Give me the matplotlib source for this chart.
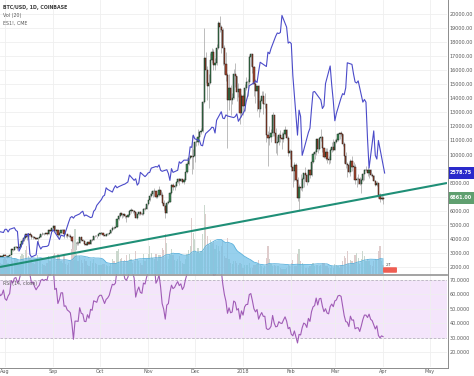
import numpy as np
import pandas as pd
import matplotlib
matplotlib.use("Agg")
import matplotlib.pyplot as plt
import matplotlib.dates as mdates
from matplotlib.patches import Rectangle, FancyBboxPatch
from matplotlib.lines import Line2D

# ---------------- data ----------------
START = "2017-07-01"
FIRST_OPEN = 2480

CLOSE = [
    2500, 2560, 2600, 2610, 2620, 2610, 2510, 2560, 2510, 2330, 2310, 2380, 2360, 2230, 1960, 1930, 2230, 2320, 2270, 2870, 2670, 2830, 2760, 2760, 2580, 2540, 2680, 2810, 2730, 2760, 2880,
    2730, 2700, 2800, 2860, 3260, 3220, 3390, 3420, 3340, 3420, 3650, 3870, 4060, 4330, 4160, 4380, 4280, 4110, 4150, 4060, 4000, 4090, 4150, 4330, 4370, 4350, 4390, 4380, 4600, 4580, 4740,
    4950, 4580, 4620, 4300, 4420, 4630, 4630, 4320, 4330, 4230, 4200, 4160, 3870, 3230, 3700, 3700, 3690, 4100, 3910, 3880, 3610, 3600, 3790, 3670, 3930, 3900, 4210, 4190, 4170, 4340,
    4400, 4400, 4310, 4220, 4330, 4370, 4440, 4610, 4780, 4770, 4830, 5440, 5640, 5830, 5690, 5760, 5600, 5570, 5710, 6010, 6010, 5990, 5900, 5520, 5740, 5890, 5770, 5750, 6150, 6130, 6450,
    6740, 7030, 7160, 7380, 7390, 6960, 7120, 7460, 7140, 6570, 6340, 5860, 6520, 6600, 7280, 7850, 7700, 7790, 8040, 8250, 8100, 8230, 8020, 8200, 8750, 9300, 9720, 9910, 9860, 9920,
    10860, 10910, 11250, 11620, 11670, 13750, 16850, 16050, 14850, 15060, 16730, 17280, 16400, 16480, 17600, 19340, 19050, 18880, 17570, 16460, 15630, 13860, 14700, 13910, 14020, 15760, 15580, 14440, 14660, 12950, 14160,
    13440, 14750, 15160, 15180, 16940, 17140, 16200, 15000, 14500, 14860, 13240, 13780, 14180, 13570, 13580, 11370, 11160, 11250, 11520, 12780, 11520, 10800, 10860, 11380, 11150, 11090, 11440, 11750, 11210, 10100, 10220,
    9110, 8830, 9230, 8190, 6940, 7700, 7590, 8240, 8680, 8540, 8070, 8900, 8510, 9480, 10030, 10170, 11080, 10380, 11150, 11220, 10440, 9830, 10150, 9680, 9590, 10310, 10570, 10330,
    10920, 11020, 11440, 11500, 11430, 10720, 9910, 9300, 9230, 8770, 9530, 9130, 9150, 8200, 8260, 8270, 7870, 8200, 8600, 8900, 8900, 8720, 8920, 8550, 8450, 8140, 7800, 7950, 7090, 6840, 6930,
    6861,
]

HIGH = [
    2520, 2570, 2620, 2640, 2640, 2640, 2620, 2570, 2570, 2530, 2400, 2410, 2420, 2370, 2240, 2060, 2240, 2390, 2400, 2900, 2900, 2880, 2860, 2790, 2780, 2610, 2700, 2830, 2820, 2790, 2890,
    2900, 2760, 2810, 2890, 3290, 3300, 3400, 3490, 3430, 3450, 3700, 3970, 4180, 4340, 4430, 4400, 4480, 4370, 4190, 4150, 4090, 4130, 4250, 4350, 4460, 4380, 4410, 4400, 4620, 4640, 4760,
    4980, 4960, 4720, 4620, 4460, 4660, 4680, 4680, 4360, 4300, 4330, 4370, 4180, 3900, 3750, 3840, 3790, 4110, 4120, 4000, 3900, 3760, 3800, 3800, 3980, 3990, 4220, 4240, 4200, 4360,
    4420, 4470, 4420, 4340, 4340, 4420, 4450, 4620, 4890, 4930, 4860, 5450, 5860, 5850, 5850, 5800, 5780, 5600, 5740, 6080, 6190, 6070, 6090, 5910, 5760, 5960, 5990, 5840, 6190, 6250, 6470,
    6760, 7300, 7440, 7500, 7600, 7400, 7200, 7790, 7460, 7340, 6780, 6500, 6720, 6750, 7320, 7940, 8000, 7870, 8100, 8300, 8360, 8300, 8280, 8300, 8760, 9480, 9730, 10000, 11400, 10400,
    10950, 11200, 11850, 11650, 11900, 13800, 19000, 17300, 16300, 15700, 17200, 17600, 17500, 16900, 17900, 19500, 19890, 19200, 19020, 17800, 17300, 15800, 15700, 14950, 14400, 16100, 16500, 15600, 15100, 14700, 14300,
    14300, 15000, 15500, 15400, 17100, 17200, 17150, 16300, 15400, 14900, 14950, 14050, 14500, 14500, 14400, 13600, 11700, 12000, 11800, 13050, 12800, 11900, 11300, 11500, 11720, 11600, 11640, 12000, 11800, 11300, 10400,
    10300, 9180, 9450, 9400, 8400, 7880, 8600, 8400, 8700, 9100, 8600, 8950, 8950, 9500, 10200, 10300, 11100, 11100, 11270, 11800, 11300, 10500, 10450, 10500, 9900, 10450, 10880, 11100,
    11100, 11150, 11550, 11550, 11700, 11450, 10900, 10150, 9450, 9500, 9700, 9880, 9450, 9350, 8400, 8600, 8400, 8300, 8700, 9000, 9200, 9100, 8950, 8990, 8700, 8560, 8200, 8100, 7950, 7300, 7220,
    7050,
]

LOW = [
    2450, 2480, 2550, 2580, 2580, 2590, 2490, 2490, 2500, 2300, 2270, 2310, 2330, 2200, 1940, 1850, 1930, 2210, 2250, 2260, 2610, 2640, 2700, 2700, 2500, 2460, 2520, 2670, 2700, 2690, 2740,
    2680, 2660, 2690, 2790, 2850, 3140, 3200, 3380, 3230, 3330, 3420, 3640, 3830, 4000, 3890, 4020, 4250, 3980, 3960, 4020, 3960, 3600, 4070, 4120, 4310, 4290, 4330, 4280, 4340, 4540, 4550,
    4690, 4470, 4400, 4120, 4280, 4400, 4580, 4060, 4150, 4080, 4140, 4070, 3810, 3160, 2980, 3530, 3560, 3690, 3850, 3850, 3590, 3540, 3600, 3630, 3660, 3860, 3890, 4140, 4090, 4170,
    4290, 4340, 4240, 4190, 4200, 4300, 4340, 4450, 4580, 4720, 4740, 4820, 5350, 5570, 5500, 5540, 5510, 5210, 5550, 5620, 5850, 5810, 5720, 5500, 5430, 5680, 5710, 5700, 5700, 6030, 6100,
    6380, 6700, 6980, 6990, 7020, 6930, 6920, 7050, 7070, 6450, 6040, 5500, 5840, 6480, 6600, 7220, 7500, 7510, 7700, 7990, 7800, 8090, 7980, 7920, 8150, 8700, 9230, 9690, 8600, 9000,
    9500, 10600, 10700, 10930, 11450, 11620, 13700, 15100, 13900, 13300, 15000, 16500, 16000, 16000, 16400, 17500, 18700, 17200, 16350, 15700, 15200, 10500, 13200, 12800, 13600, 13940, 14800, 13800, 14100, 12200, 12700,
    12800, 13100, 14600, 14200, 15000, 16300, 15800, 14200, 13700, 13100, 12700, 13000, 13700, 12900, 13300, 10900, 9200, 10700, 10900, 11300, 11300, 10100, 10000, 10700, 10900, 10400, 10900, 11400, 11100, 9900, 9700,
    8800, 7700, 8100, 8150, 6700, 6000, 7500, 7400, 7700, 8100, 7800, 8060, 8360, 8490, 9380, 9700, 10000, 10140, 10300, 10950, 10200, 9750, 9600, 9400, 9350, 9400, 10150, 10250,
    10300, 10800, 10950, 11100, 11300, 10600, 9400, 9050, 8400, 8700, 8500, 8800, 8900, 7900, 7700, 7900, 7800, 7300, 8100, 8200, 8800, 8500, 8300, 8500, 8400, 8100, 7750, 7750, 6900, 6600, 6800,
    6450,
]

# volume in thousands of BTC
VOLUME_K = [
    9, 8, 7, 8, 8, 7, 9, 6, 5, 10, 11, 9, 7, 11, 18, 16, 21, 15, 14, 22, 19, 12, 9, 10, 14, 13, 12, 13, 9, 8, 12,
    14, 11, 9, 8, 15, 10, 13, 12, 11, 9, 14, 16, 15, 19, 22, 14, 13, 12, 9, 8, 11, 15, 12, 10, 8, 7, 6, 9, 14, 10, 13,
    15, 17, 10, 16, 14, 10, 9, 14, 8, 7, 9, 10, 20, 30, 36, 16, 10, 14, 11, 9, 12, 10, 7, 6, 10, 9, 12, 9, 8, 7,
    7, 7, 8, 8, 7, 6, 6, 8, 12, 10, 9, 18, 20, 12, 13, 10, 11, 15, 10, 16, 12, 9, 10, 18, 12, 10, 9, 7, 16, 10, 12,
    16, 22, 17, 13, 12, 16, 10, 15, 15, 21, 19, 32, 25, 12, 15, 20, 15, 11, 10, 12, 14, 10, 9, 8, 12, 16, 19, 22, 45, 33,
    28, 17, 21, 17, 18, 32, 55, 48, 30, 24, 27, 25, 26, 20, 23, 22, 18, 22, 26, 14, 13, 29, 12, 9, 8, 10, 10, 9, 7, 9, 8,
    5, 7, 7, 7, 9, 5, 5, 7, 7, 8, 11, 7, 6, 5, 6, 13, 22, 12, 8, 6, 7, 6, 6, 6, 5, 4, 4, 4, 5, 7, 6,
    9, 11, 6, 6, 16, 20, 10, 9, 7, 5, 5, 5, 6, 7, 9, 6, 7, 7, 6, 7, 9, 9, 6, 6, 5, 5, 6, 5,
    8, 7, 6, 5, 7, 10, 14, 13, 18, 9, 11, 10, 9, 15, 17, 13, 8, 12, 18, 14, 10, 12, 10, 7, 6, 10, 12, 11, 18, 22, 10,
    7,
]

ES_DATES = [
    "2017-07-28", "2017-07-31", "2017-08-01", "2017-08-02", "2017-08-03", "2017-08-04", "2017-08-07", "2017-08-08",
    "2017-08-09", "2017-08-10", "2017-08-11", "2017-08-14", "2017-08-15", "2017-08-16", "2017-08-17", "2017-08-18",
    "2017-08-21", "2017-08-22", "2017-08-23", "2017-08-24", "2017-08-25", "2017-08-28", "2017-08-29", "2017-08-30",
    "2017-08-31", "2017-09-01", "2017-09-05", "2017-09-06", "2017-09-07", "2017-09-08", "2017-09-11", "2017-09-12",
    "2017-09-13", "2017-09-14", "2017-09-15", "2017-09-18", "2017-09-19", "2017-09-20", "2017-09-21", "2017-09-22",
    "2017-09-25", "2017-09-26", "2017-09-27", "2017-09-28", "2017-09-29", "2017-10-02", "2017-10-03", "2017-10-04",
    "2017-10-05", "2017-10-06", "2017-10-09", "2017-10-10", "2017-10-11", "2017-10-12", "2017-10-13", "2017-10-16",
    "2017-10-17", "2017-10-18", "2017-10-19", "2017-10-20", "2017-10-23", "2017-10-24", "2017-10-25", "2017-10-26",
    "2017-10-27", "2017-10-30", "2017-10-31", "2017-11-01", "2017-11-02", "2017-11-03", "2017-11-06", "2017-11-07",
    "2017-11-08", "2017-11-09", "2017-11-10", "2017-11-13", "2017-11-14", "2017-11-15", "2017-11-16", "2017-11-17",
    "2017-11-20", "2017-11-21", "2017-11-22", "2017-11-24", "2017-11-27", "2017-11-28", "2017-11-29", "2017-11-30",
    "2017-12-01", "2017-12-04", "2017-12-05", "2017-12-06", "2017-12-07", "2017-12-08", "2017-12-11", "2017-12-12",
    "2017-12-13", "2017-12-14", "2017-12-15", "2017-12-18", "2017-12-19", "2017-12-20", "2017-12-21", "2017-12-22",
    "2017-12-26", "2017-12-27", "2017-12-28", "2017-12-29", "2018-01-02", "2018-01-03", "2018-01-04", "2018-01-05",
    "2018-01-08", "2018-01-09", "2018-01-10", "2018-01-11", "2018-01-12", "2018-01-16", "2018-01-17", "2018-01-18",
    "2018-01-19", "2018-01-22", "2018-01-23", "2018-01-24", "2018-01-25", "2018-01-26", "2018-01-29", "2018-01-30",
    "2018-01-31", "2018-02-01", "2018-02-02", "2018-02-05", "2018-02-06", "2018-02-07", "2018-02-08", "2018-02-09",
    "2018-02-12", "2018-02-13", "2018-02-14", "2018-02-15", "2018-02-16", "2018-02-20", "2018-02-21", "2018-02-22",
    "2018-02-23", "2018-02-26", "2018-02-27", "2018-02-28", "2018-03-01", "2018-03-02", "2018-03-05", "2018-03-06",
    "2018-03-07", "2018-03-08", "2018-03-09", "2018-03-12", "2018-03-13", "2018-03-14", "2018-03-15", "2018-03-16",
    "2018-03-19", "2018-03-20", "2018-03-21", "2018-03-22", "2018-03-23", "2018-03-26", "2018-03-27", "2018-03-28",
    "2018-03-29", "2018-04-02",
]
ES_CLOSE = [
    2469, 2467, 2473, 2473, 2468, 2473, 2476, 2471,
    2469, 2432, 2438, 2462, 2461, 2465, 2426, 2421,
    2425, 2450, 2442, 2436, 2440, 2441, 2443, 2455,
    2468, 2472, 2454, 2462, 2461, 2460, 2487, 2495,
    2497, 2494, 2498, 2502, 2505, 2507, 2498, 2500,
    2495, 2496, 2507, 2510, 2518, 2529, 2535, 2537,
    2551, 2548, 2543, 2550, 2555, 2551, 2553, 2557,
    2558, 2560, 2562, 2575, 2565, 2568, 2556, 2560,
    2580, 2572, 2575, 2579, 2580, 2588, 2591, 2590,
    2594, 2584, 2582, 2585, 2578, 2565, 2587, 2580,
    2584, 2600, 2597, 2603, 2603, 2628, 2627, 2650,
    2643, 2640, 2631, 2630, 2644, 2653, 2661, 2665,
    2664, 2654, 2678, 2694, 2682, 2681, 2688, 2686,
    2683, 2685, 2690, 2676, 2696, 2713, 2724, 2743,
    2748, 2752, 2749, 2769, 2787, 2779, 2806, 2803,
    2813, 2836, 2842, 2841, 2843, 2875, 2853, 2823,
    2825, 2822, 2762, 2650, 2697, 2685, 2612, 2622,
    2655, 2663, 2699, 2731, 2732, 2716, 2700, 2705,
    2747, 2780, 2744, 2714, 2677, 2691, 2720, 2728,
    2726, 2739, 2786, 2783, 2765, 2750, 2748, 2752,
    2712, 2717, 2712, 2643, 2588, 2658, 2612, 2605,
    2640, 2578.75,
]

TREND_DATES = ["2017-07-28 19:00", "2018-05-12 02:00"]
TREND_PRICES = [2000, 7976]

LAST_BTC = 6861.00
LAST_ES = 2578.75

MONTH_TICKS = ["2017-08-01", "2017-09-01", "2017-10-01", "2017-11-01", "2017-12-01",
               "2018-01-01", "2018-02-01", "2018-03-01", "2018-04-01", "2018-05-01"]
MONTH_LABELS = ["Aug", "Sep", "Oct", "Nov", "Dec", "2018", "Feb", "Mar", "Apr", "May"]
PRICE_TICKS = list(range(2000, 20001, 1000))
HIDDEN_PRICE_TICKS = [7000]   # covered by the last-price label in the reference
RSI_TICKS = [20, 30, 40, 50, 60, 70]

n = len(CLOSE)
for name, arr in [("HIGH", HIGH), ("LOW", LOW), ("VOLUME_K", VOLUME_K)]:
    if len(arr) != n:
        raise SystemExit(f"{name} length {len(arr)} != {n}")
if len(ES_DATES) != len(ES_CLOSE):
    raise SystemExit(f"ES lengths {len(ES_DATES)} {len(ES_CLOSE)}")

# ---------------- derived series ----------------
dates = pd.date_range(START, periods=n, freq="D")
x = mdates.date2num(dates.to_pydatetime())
close = np.array(CLOSE, float)
opn = np.concatenate([[FIRST_OPEN], close[:-1]])
high = np.array(HIGH, float)
low = np.array(LOW, float)
vol = np.array(VOLUME_K, float)
up = close >= opn

cs = pd.Series(close)
delta = cs.diff()
gain = delta.clip(lower=0)
loss = -delta.clip(upper=0)
avg_g = gain.ewm(alpha=1 / 14, adjust=False).mean()
avg_l = loss.ewm(alpha=1 / 14, adjust=False).mean()
rsi = (100 - 100 / (1 + avg_g / avg_l)).values

vma = pd.Series(vol).rolling(20, min_periods=1).mean().values

es_x = mdates.date2num(pd.to_datetime(ES_DATES).to_pydatetime())
tr_x = mdates.date2num(pd.to_datetime(TREND_DATES).to_pydatetime())
month_x = mdates.date2num(pd.to_datetime(MONTH_TICKS).to_pydatetime())
xlim = (tr_x[0], tr_x[1])

# ---------------- figure ----------------
W, H = 474, 376
fig = plt.figure(figsize=(W / 100, H / 100), dpi=100)
fig.patch.set_facecolor("white")


def rect(x0, y0, x1, y1):
    return [x0 / W, 1 - y1 / H, (x1 - x0) / W, (y1 - y0) / H]


def fy(py):
    return 1 - py / H


main_rect = rect(0, 0, 447, 274)
ax = fig.add_axes(main_rect)              # price (candles, grid, labels)
ax_vol = fig.add_axes(main_rect)          # volume
ax_es = fig.add_axes(main_rect)           # ES1! overlay
ax_tl = fig.add_axes(main_rect)           # trend line (price scale)
ax_rsi = fig.add_axes(rect(0, 274, 447, 367))

PRICE_LIM = (1502, 20996)
GRID = "#efefef"
LABEL_C = "#5a5a5a"
FS = 3.5

for a in (ax, ax_vol, ax_es, ax_tl, ax_rsi):
    a.set_xlim(*xlim)
    for s in a.spines.values():
        s.set_visible(False)
for a in (ax_vol, ax_es, ax_tl):
    a.set_facecolor("none")
    a.set_xticks([])
    a.set_yticks([])

# price pane
ax.set_facecolor("white")
ax.set_ylim(*PRICE_LIM)
ax.set_xticks(month_x)
ax.set_yticks(PRICE_TICKS)
ax.set_yticklabels(["" if v in HIDDEN_PRICE_TICKS else f"{v:.2f}" for v in PRICE_TICKS])
ax.yaxis.tick_right()
ax.tick_params(axis="y", length=0, pad=1.8, labelsize=FS, labelcolor=LABEL_C)
ax.tick_params(axis="x", length=0, labelbottom=False)
ax.grid(True, color=GRID, lw=0.6)
ax.set_axisbelow(True)

ax.vlines(x, low, high, color="#ababab", lw=0.55, zorder=2)
body_bot = np.minimum(opn, close)
body_h = np.maximum(np.abs(close - opn), 30)
ax.bar(x[up], body_h[up], bottom=body_bot[up], width=0.8, color="#3c8a56",
       edgecolor="#1d2b20", lw=0.35, zorder=3)
ax.bar(x[~up], body_h[~up], bottom=body_bot[~up], width=0.8, color="#a9472f",
       edgecolor="#2a1a14", lw=0.35, zorder=3)

# volume
ax_vol.set_ylim(0, 219)
ax_vol.bar(x, vol, width=0.8, color=np.where(up, "#cbd8ce", "#dfcccc"), lw=0)
ax_vol.fill_between(x, 0, vma, color="#6fbfe6", alpha=0.72, lw=0)
ax_vol.plot(x, vma, color="#58b0dc", lw=0.6)

# ES1!
ax_es.set_ylim(2389, 2904)
ax_es.plot(es_x, ES_CLOSE, color="#4b4bc9", lw=0.8)

# trend line
ax_tl.set_ylim(*PRICE_LIM)
ax_tl.plot(tr_x, TREND_PRICES, color="#1f8f77", lw=1.5, solid_capstyle="butt")

# RSI pane
ax_rsi.set_facecolor("white")
ax_rsi.set_ylim(10, 74.1)
ax_rsi.axhspan(30, 70, color="#f4e5fb", lw=0, zorder=0.5)
ax_rsi.axhline(70, color="#b9b0c2", lw=0.6, ls=(0, (3, 2)))
ax_rsi.axhline(30, color="#b9b0c2", lw=0.6, ls=(0, (3, 2)))
ax_rsi.plot(x, rsi, color="#a05cb6", lw=0.8, zorder=3)
ax_rsi.set_yticks(RSI_TICKS)
ax_rsi.set_yticklabels([f"{v:.4f}" for v in RSI_TICKS])
ax_rsi.yaxis.tick_right()
ax_rsi.set_xticks(month_x)
ax_rsi.set_xticklabels(MONTH_LABELS)
ax_rsi.tick_params(axis="y", length=0, pad=1.8, labelsize=FS, labelcolor=LABEL_C)
ax_rsi.tick_params(axis="x", length=0, pad=1.6, labelsize=FS, labelcolor=LABEL_C)
ax_rsi.grid(True, color=GRID, lw=0.6)

# frame lines
fig.add_artist(Line2D([0, 447 / W], [fy(274.5)] * 2, color="#9c9c9c", lw=1.3))
fig.add_artist(Line2D([447.5 / W] * 2, [fy(0), fy(367.5)], color="#8c8c8c", lw=0.7))
fig.add_artist(Line2D([0, 447.5 / W], [fy(367.5)] * 2, color="#8c8c8c", lw=0.7))

# last-value labels
fig.add_artist(Rectangle((448 / W, fy(179)), 26 / W, 12 / H, transform=fig.transFigure,
                         color="#2a2acb", lw=0))
fig.text(461 / W, fy(173), f"{LAST_ES:.2f}", color="white", fontsize=FS,
         ha="center", va="center", weight="bold")
fig.add_artist(Rectangle((448 / W, fy(204)), 26 / W, 12 / H, transform=fig.transFigure,
                         color="#5f9f6f", lw=0))
fig.text(461 / W, fy(198), f"{LAST_BTC:.2f}", color="white", fontsize=FS,
         ha="center", va="center", weight="bold")

# event marker
fig.add_artist(FancyBboxPatch((384 / W, fy(272)), 12 / W, 4 / H, boxstyle="round,pad=0.002",
                              transform=fig.transFigure, color="#ef5d52", lw=0))
fig.text(389 / W, fy(264.5), "2↑", color="#444444", fontsize=3.2, ha="center", va="center")

# legends / titles
fig.text(3 / W, fy(7), "BTC/USD, 1D, COINBASE", fontsize=3.4, weight="bold",
         color="#3a3a3a", va="center")
fig.text(3 / W, fy(15), "Vol (20)", fontsize=3.4, color="#5a5a5a", va="center")
fig.text(3 / W, fy(23), "ES1!, CME", fontsize=3.4, color="#5a5a5a", va="center")
fig.text(3 / W, fy(283), "RSI (14, close)", fontsize=3.4, color="#5a5a5a", va="center")

fig.savefig("out.png", dpi=100, facecolor="white")
